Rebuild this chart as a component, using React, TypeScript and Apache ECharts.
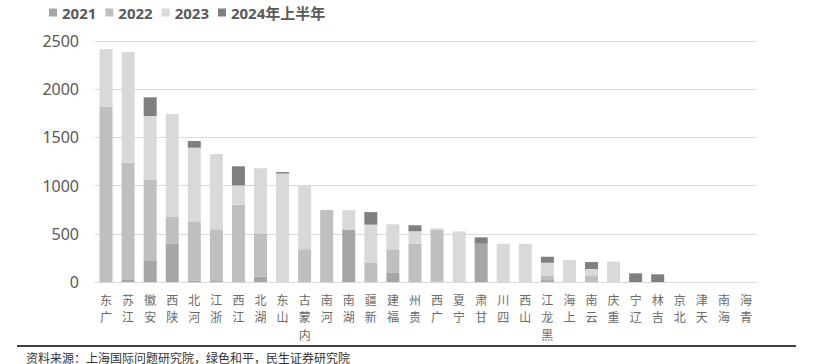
import React, { useEffect, useRef } from "react";
import * as echarts from "echarts";

const categories = ["广东","江苏","安徽","陕西","河北","浙江","江西","湖北","山东","内蒙古","河南","湖南","新疆","福建","贵州","广西","宁夏","甘肃","四川","山西","黑龙江","上海","云南","重庆","辽宁","吉林","北京","天津","海南","青海"];
const seriesNames = ["2021", "2022", "2023", "2024年上半年"];
const y2021 = [0,20,225,400,12,10,0,55,0,0,0,545,0,100,0,5,0,397,0,0,20,0,0,0,0,0,0,0,0,0];
const y2022 = [1820,1220,833,275,610,537,802,450,0,340,747,0,197,232,397,540,0,0,0,0,42,0,69,0,0,0,0,0,0,0];
const y2023 = [595,1145,664,1068,771,781,200,675,1125,665,0,200,398,267,129,12,525,0,397,397,138,228,66,211,0,0,0,0,0,0];
const y2024 = [0,0,194,0,70,0,198,0,15,0,0,0,130,0,62,0,0,66,0,0,62,0,72,0,90,80,0,0,0,0];
const colors = ["#a6a6a6", "#bfbfbf", "#d9d9d9", "#7f7f7f"];
const sourceText = "资料来源：上海国际问题研究院，绿色和平，民生证券研究院";

export default function App() {
  const ref = useRef<HTMLDivElement>(null);
  useEffect(() => {
    if (!ref.current) return;
    const chart = echarts.init(ref.current, undefined, { renderer: "svg" });
    const data = [y2021, y2022, y2023, y2024];
    // stacked vertical characters: row k shows the k-th character counted from the end
    const labelAxis = (k: number) => ({
      type: "category",
      data: categories,
      position: "bottom",
      offset: k * 17.5,
      axisLine: k === 0 ? { lineStyle: { color: "#d9d9d9", width: 1 } } : { show: false },
      axisTick: { show: false },
      axisLabel: {
        interval: 0,
        margin: 10,
        fontSize: 12,
        lineHeight: 14,
        color: "#6a6a6a",
        verticalAlign: "top",
        fontFamily: "'Noto Sans CJK SC', sans-serif",
        formatter: (v: string) => {
          const chars = v.split("").reverse();
          return chars[k] || "";
        },
      },
    });
    chart.setOption({
      animation: false,
      textStyle: { fontFamily: "'Noto Sans', 'Noto Sans CJK SC', sans-serif" },
      legend: {
        left: 44,
        top: 0,
        itemWidth: 8,
        itemHeight: 8,
        itemGap: 9,
        icon: "rect",
        textStyle: { fontSize: 15, fontWeight: "bold", color: "#595959" },
        data: seriesNames,
      },
      grid: { left: 95, right: 57, top: 41, bottom: 82, containLabel: false },
      xAxis: [labelAxis(0), labelAxis(1), labelAxis(2)],
      yAxis: {
        type: "value",
        min: 0,
        max: 2500,
        interval: 500,
        axisLine: { show: false },
        axisTick: { show: false },
        splitLine: { lineStyle: { color: "#d9d9d9", width: 1 } },
        axisLabel: { fontSize: 16, color: "#595959", margin: 16, formatter: (v: number) => String(v) },
      },
      series: seriesNames.map((name, i) => ({
        name,
        type: "bar",
        stack: "total",
        barWidth: 13,
        xAxisIndex: 0,
        itemStyle: { color: colors[i] },
        data: data[i],
      })),
      graphic: [
        {
          type: "line",
          shape: { x1: 17, y1: 346, x2: 796, y2: 346 },
          style: { stroke: "#404040", lineWidth: 2 },
        },
        {
          type: "text",
          x: 26,
          y: 357,
          style: {
            text: sourceText,
            fontSize: 12,
            fill: "#333333",
            verticalAlign: "middle",
            fontFamily: "'Noto Sans CJK SC', sans-serif",
          },
        },
      ],
    });
    return () => chart.dispose();
  }, []);
  return <div ref={ref} style={{ position: "absolute", left: 0, top: 0, width: 814, height: 364 }} />;
}
